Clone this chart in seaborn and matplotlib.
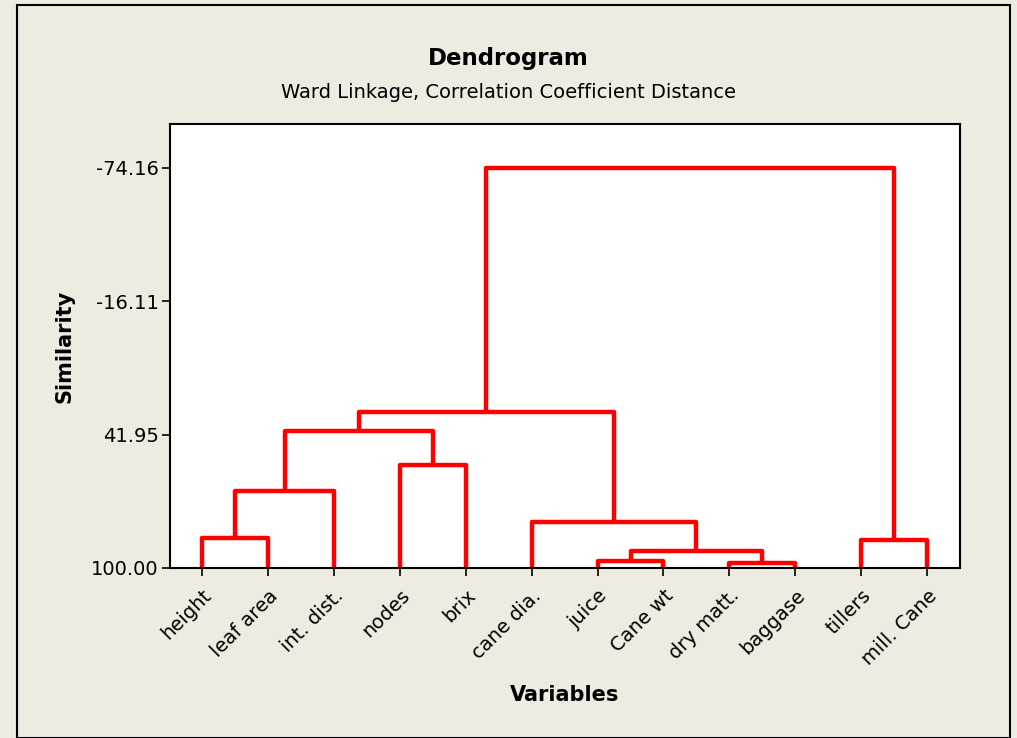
import matplotlib
matplotlib.use('Agg')
import matplotlib.pyplot as plt
from matplotlib.patches import Rectangle
import seaborn as sns
import pandas as pd

# --- data ---
leaf_labels = ['height', 'leaf area', 'int. dist.', 'nodes', 'brix', 'cane dia.',
               'juice', 'Cane wt', 'dry matt.', 'baggase', 'tillers', 'mill. Cane']
# merges in linkage style: (child a, child b, similarity level); new nodes numbered from 12
merge_a = [0, 12, 3, 13, 6, 8, 16, 5, 15, 10, 20]
merge_b = [1, 2, 4, 14, 7, 9, 17, 18, 19, 11, 21]
merge_level = [86.94, 66.50, 55.20, 40.35, 96.96, 97.80, 92.60, 79.98, 32.08, 87.80, -74.16]
y_ticks = [-74.16, -16.11, 41.95, 100.00]

bg = '#EEEBE0'
line_red = '#FF0000'

sns.set_style('white')
plt.rcParams['font.family'] = ['DejaVu Sans']
plt.rcParams['text.color'] = 'black'
plt.rcParams['axes.labelcolor'] = 'black'
plt.rcParams['xtick.color'] = 'black'
plt.rcParams['ytick.color'] = 'black'

# --- build segments of the dendrogram from the merge table ---
n = len(leaf_labels)
xpos = {i: float(i) for i in range(n)}
ypos = {i: 100.0 for i in range(n)}
rows = []
seg = 0
for k, (a, b, h) in enumerate(zip(merge_a, merge_b, merge_level)):
    node = n + k
    pts = [(xpos[a], ypos[a]), (xpos[a], h), (xpos[b], h), (xpos[b], ypos[b])]
    for px, py in pts:
        rows.append({'x': px, 'y': py, 'seg': seg})
    seg += 1
    xpos[node] = (xpos[a] + xpos[b]) / 2
    ypos[node] = h
segs = pd.DataFrame(rows)

fig = plt.figure(figsize=(10.17, 7.38), dpi=100, facecolor=bg)
ax = fig.add_axes([0.167, 0.2304, 0.777, 0.6016])
ax.set_facecolor('white')

sns.lineplot(data=segs, x='x', y='y', units='seg', estimator=None, sort=False,
             color=line_red, linewidth=3.2, ax=ax, legend=False)
for l in ax.lines:
    l.set_solid_joinstyle('round')
    l.set_solid_capstyle('butt')

ax.set_xlim(-0.49, 11.5)
ax.set_ylim(100, -93.3)
ax.set_xticks(range(n))
ax.set_xticklabels(leaf_labels, rotation=45, ha='right', va='top', rotation_mode='anchor',
                   fontsize=14)
ax.set_yticks(y_ticks)
ax.set_yticklabels([f'{v:.2f}' for v in y_ticks], fontsize=14)
ax.tick_params(axis='both', direction='out', length=6, width=1.2, color='black',
               bottom=True, left=True)
ax.tick_params(axis='x', pad=7)
ax.tick_params(axis='y', pad=2)
for s in ax.spines.values():
    s.set_color('black')
    s.set_linewidth(1.5)

ax.set_xlabel('Variables', fontsize=15, fontweight='bold', labelpad=12)
ax.set_ylabel('Similarity', fontsize=15, fontweight='bold', labelpad=12)

fig.text(0.5, 0.921, 'Dendrogram', ha='center', va='center', fontsize=16.5, fontweight='bold')
fig.text(0.5, 0.875, 'Ward Linkage, Correlation Coefficient Distance', ha='center', va='center',
         fontsize=14)

# outer frame like the original export
fig.patches.append(Rectangle((17 / 1017, 0), (1010 - 17) / 1017, 1 - 5 / 738,
                             transform=fig.transFigure, fill=False, edgecolor='black',
                             linewidth=1.5, zorder=0))

fig.savefig('out.png', dpi=100, facecolor=bg)
